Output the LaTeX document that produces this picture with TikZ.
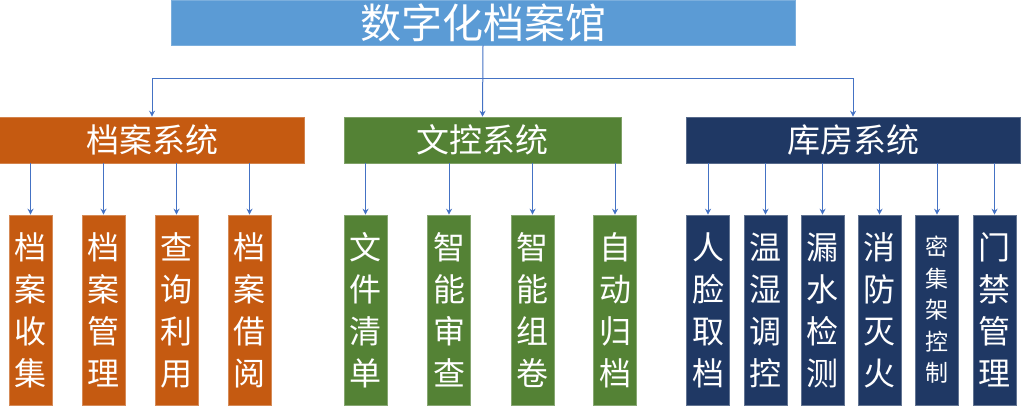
\documentclass[tikz,border=0pt]{standalone}
\usepackage{fontspec}
\newfontfamily\cjk{Noto Sans CJK SC}
\usetikzlibrary{arrows.meta}
\definecolor{topblue}{HTML}{5B9BD5}
\definecolor{orng}{HTML}{C55A11}
\definecolor{grn}{HTML}{548235}
\definecolor{navy}{HTML}{1F3864}
\definecolor{arrowblue}{HTML}{4472C4}
\tikzset{
  box/.style={rectangle, inner sep=0pt, text=white, font=\cjk},
  topbox/.style={box, fill=topblue, draw=topblue!80!white, line width=0.6pt,
    minimum width=624pt, minimum height=45pt, font=\cjk\fontsize{41}{44}\selectfont},
  sysbox/.style={box, line width=0.6pt, minimum height=46pt, font=\cjk\fontsize{33}{36}\selectfont},
  leafbox/.style={box, line width=0.6pt, minimum width=43pt, minimum height=190pt,
    align=center, font=\cjk\fontsize{32}{42}\selectfont},
  smallleaf/.style={leafbox, font=\cjk\fontsize{23}{31.5}\selectfont},
  arr/.style={draw=arrowblue, line width=1pt, -{Stealth[length=6pt,width=6pt]}},
}
\begin{document}
\begin{tikzpicture}[x=1pt,y=-1pt]
\useasboundingbox (0,0) rectangle (1022,407);
% top
\node[topbox] (top) at (483,22.5) {数字化档案馆};
% systems
\node[sysbox, fill=orng, draw=orng!75!white, minimum width=305pt] (s1) at (152,140) {档案系统};
\node[sysbox, fill=grn, draw=grn!75!white, minimum width=277pt] (s2) at (482.5,140) {文控系统};
\node[sysbox, fill=navy, draw=navy!75!white, minimum width=334pt] (s3) at (853,140) {库房系统};
% leaves group 1
\tikzset{o/.style={leafbox, fill=orng, draw=orng!70!white}}
\node[o] (a1) at (30.5,310) {档\\案\\收\\集};
\node[o] (a2) at (103.5,310) {档\\案\\管\\理};
\node[o] (a3) at (176.5,310) {查\\询\\利\\用};
\node[o] (a4) at (249.5,310) {档\\案\\借\\阅};
% group 2
\tikzset{g/.style={leafbox, fill=grn, draw=grn!70!white}}
\node[g] (b1) at (365.5,310) {文\\件\\清\\单};
\node[g] (b2) at (449,310) {智\\能\\审\\查};
\node[g] (b3) at (532.5,310) {智\\能\\组\\卷};
\node[g] (b4) at (615,310) {自\\动\\归\\档};
% group 3
\tikzset{n/.style={leafbox, fill=navy, draw=navy!70!white}}
\node[n] (c1) at (708,310) {人\\脸\\取\\档};
\node[n] (c2) at (765.5,310) {温\\湿\\调\\控};
\node[n] (c3) at (822.5,310) {漏\\水\\检\\测};
\node[n] (c4) at (879.5,310) {消\\防\\灭\\火};
\node[n, smallleaf] (c5) at (937,310) {密\\集\\架\\控\\制};
\node[n] (c6) at (994.5,310) {门\\禁\\管\\理};
% connectors
\coordinate (bus) at (483,78);
\draw[arr] (top.south) -- (s2.north);
\draw[arr] (bus) -| (s1.north);
\draw[arr] (bus) -| (s3.north);
\foreach \l in {a1,a2,a3,a4} \draw[arr] (\l.north |- s1.south) -- (\l.north);
\foreach \l in {b1,b2,b3,b4} \draw[arr] (\l.north |- s2.south) -- (\l.north);
\foreach \l in {c1,c2,c3,c4,c5,c6} \draw[arr] (\l.north |- s3.south) -- (\l.north);
\end{tikzpicture}
\end{document}
